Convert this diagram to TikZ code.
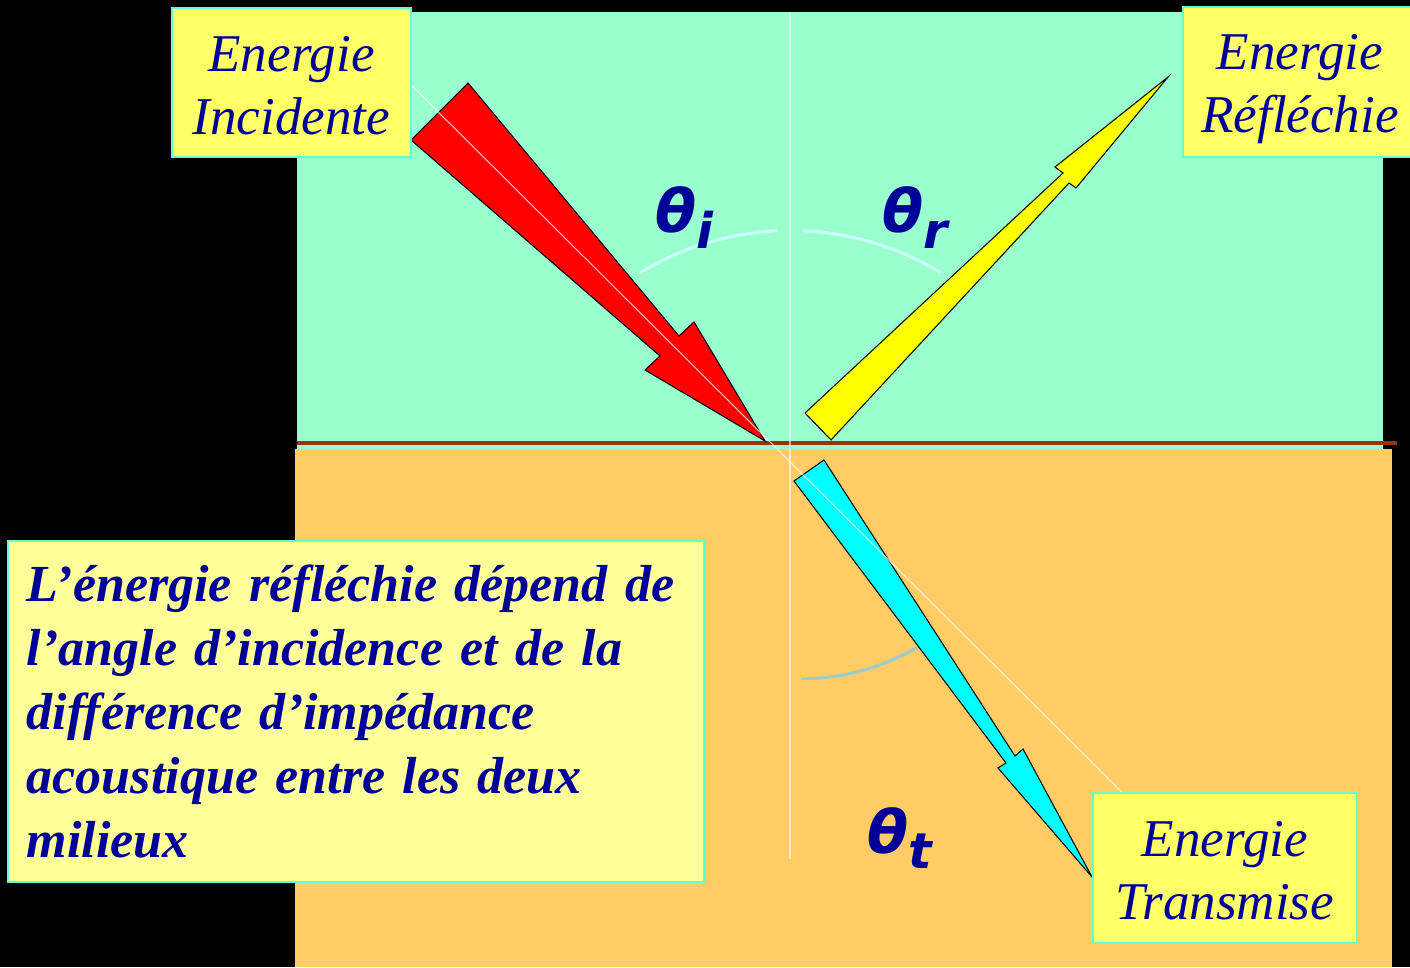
\documentclass[tikz,border=0pt]{standalone}
\usepackage{fontspec}
\setmainfont{Liberation Serif}
\newfontfamily\thetafont{DejaVu Sans}
\usetikzlibrary{positioning}

\definecolor{milieuA}{HTML}{99FFCC}
\definecolor{milieuB}{HTML}{FFCC66}
\definecolor{boxfill}{HTML}{FFFF66}
\definecolor{notefill}{HTML}{FFFF99}
\definecolor{boxline}{HTML}{66FFCC}
\definecolor{textblue}{HTML}{000099}
\definecolor{interface}{HTML}{993300}
\definecolor{arcpale}{HTML}{CCFFFF}
\definecolor{arcdark}{HTML}{99CCCC}
\definecolor{beamred}{HTML}{FF0000}
\definecolor{beamyellow}{HTML}{FFFF00}
\definecolor{beamcyan}{HTML}{00FFFF}

\tikzset{
  boxframe/.style={draw=boxline, fill=boxfill, line width=0.6pt},
  energytext/.style={text=textblue, align=center, font=\fontsize{15.1}{17.9}\selectfont\itshape, inner sep=0pt},
  thetalabel/.style={text=textblue, font=\thetafont\bfseries\itshape\fontsize{17}{17}\selectfont,
    inner sep=0pt, anchor=base west},
  beam/.style={draw=black, line width=0.3pt, line join=miter},
  anglearc/.style={line width=0.85pt, line cap=round},
}
\newcommand{\sub}[1]{\raisebox{-0.15cm}{\fontsize{14}{14}\selectfont #1}}

\begin{document}
\begin{tikzpicture}[x=0.01cm, y=-0.01cm]
        \useasboundingbox (0,0) rectangle (1410,967);
        \fill[black] (0,0) rectangle (1410,967);
        \fill[milieuA] (297,12) rectangle (1383,449);
        \fill[milieuB] (295,449) rectangle (1392,967);

        \coordinate (ifaceL) at (297,443);
        \coordinate (ifaceR) at (1397,443);
        \coordinate (normalT) at (790,12);
        \coordinate (normalB) at (790,859);
        \coordinate (rayA) at (405,79);
        \coordinate (rayB) at (1130,800);

        \draw[interface, line width=1.15pt] (ifaceL) -- (ifaceR);
        \draw[white, opacity=0.6, line width=0.5pt] (normalT) -- (normalB);

        \draw[arcpale, anglearc] (790.5,519.5) ++(-121.4:289) arc[start angle=-121.4, end angle=-92.7, radius=289];
        \draw[arcpale, anglearc] (790.5,519.5) ++(-87.3:289) arc[start angle=-87.3, end angle=-58.9, radius=289];
        \draw[arcdark, anglearc] (803,456) ++(90:222.6) arc[start angle=90, end angle=58.9, radius=222.6];

        \filldraw[beam, fill=beamred] (468,83) -- (679,336) -- (694,322) -- (765,441) -- (645,370) -- (660,356) -- (411,140) -- cycle;
        \filldraw[beam, fill=beamyellow] (805,413) -- (1063,173) -- (1055,167) -- (1168,77) -- (1076,188) -- (1069,183) -- (831,440) -- cycle;
        \filldraw[beam, fill=beamcyan] (824,460) -- (1015,756) -- (1023,749) -- (1092,877) -- (998,768) -- (1006,763) -- (794,481) -- cycle;

        \draw[white, opacity=0.75, line width=0.3pt] (rayA) -- (rayB);

        \node[thetalabel] (thi) at (655,233) {θ\sub{i}};
        \node[thetalabel] (thr) at (882,233) {θ\sub{r}};
        \node[thetalabel] (tht) at (867,853) {θ\sub{t}};

        \draw[boxframe] (172,8) rectangle (411,157);
        \node[energytext] (inc) at (291.5,85.5) {Energie\\Incidente};
        \draw[boxframe] (1183,7) rectangle (1420,157);
        \node[energytext] (refl) at (1300,89) {Energie\\Réfléchie};
        \draw[boxframe] (1093,793) rectangle (1357,943);
        \node[energytext] (trans) at (1225,870.5) {Energie\\Transmise};

        \node[draw=boxline, fill=notefill, line width=0.6pt, text=textblue, align=left,
              minimum width=6.96cm, minimum height=3.41cm, text width=6.58cm, inner xsep=0.19cm,
              font=\fontsize{14.8}{18.2}\selectfont\bfseries\itshape] (note) at (356,711.5)
              {L’énergie réfléchie dépend de\\l’angle d’incidence et de la\\différence d’impédance\\acoustique entre les deux\\milieux};
    \end{tikzpicture}
\end{document}
